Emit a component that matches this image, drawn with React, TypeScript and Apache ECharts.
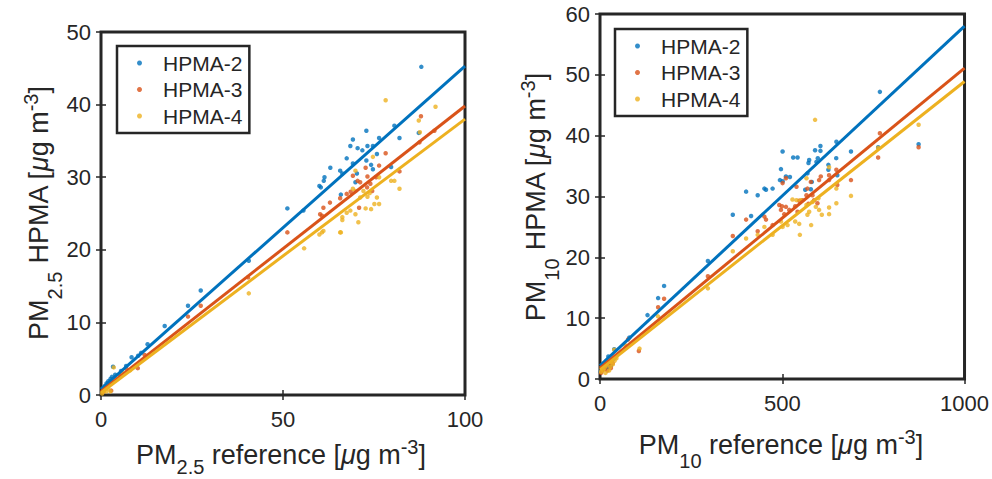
import React, { useEffect, useRef } from "react";
import * as echarts from "echarts";

const FONT = "'Liberation Sans', Arial, Helvetica, sans-serif";
const INK = "#262626";

const seriesNames = ["HPMA-2", "HPMA-3", "HPMA-4"];
const seriesColors = ["#0072BD", "#D95319", "#EDB120"];

// ---- PM2.5 panel: [reference, HPMA] ----
const pm25Hpma2: number[][] = [
  [0.5, 0.9], [1.0, 1.2], [1.5, 1.6], [2.0, 1.9], [2.6, 2.2], [3.0, 2.5], [3.3, 3.9], [3.9, 2.8],
  [5.5, 3.3], [6.9, 4.0], [8.4, 5.2], [10.2, 5.4], [11.0, 5.8], [12.8, 7.0], [17.5, 9.5], [23.9, 12.3],
  [27.4, 14.4], [40.6, 18.5],
  [51.2, 25.7], [55.6, 25.4], [60.0, 28.8], [60.4, 28.6], [61.2, 29.5], [61.4, 30.0], [63.0, 31.3],
  [65.7, 30.9], [66.3, 30.5], [65.9, 27.6], [67.5, 32.6], [68.5, 34.3], [69.2, 35.2], [69.2, 31.9],
  [69.9, 29.3], [70.3, 30.5], [70.5, 34.0], [71.8, 33.7], [72.9, 36.4], [72.9, 32.3], [73.2, 34.3],
  [74.2, 31.7], [74.7, 34.3], [74.7, 31.1], [75.8, 33.2], [76.4, 35.4], [79.7, 31.4], [80.6, 37.1],
  [82.0, 35.4], [87.3, 36.1], [88.0, 45.2],
];
const pm25Hpma3: number[][] = [
  [0.5, 0.4], [1.0, 0.8], [1.5, 1.0], [2.0, 1.3], [2.8, 0.6], [3.0, 1.8], [5.0, 2.8], [7.0, 3.6],
  [10.1, 3.7], [12.0, 5.5], [23.9, 10.8], [27.4, 12.3], [40.4, 16.2],
  [51.2, 22.4], [60.2, 24.9], [60.7, 24.7], [61.1, 25.8], [62.9, 26.5], [65.7, 27.1], [67.5, 27.7],
  [68.6, 28.0], [69.2, 30.2], [70.5, 29.5], [70.9, 25.8], [71.2, 29.3], [72.7, 31.3], [73.1, 28.6],
  [73.2, 30.1], [74.0, 29.1], [74.5, 28.1], [75.6, 30.0], [76.4, 31.6], [78.2, 33.3], [82.0, 30.8],
  [87.5, 34.8], [87.9, 38.4], [91.6, 36.4],
];
const pm25Hpma4: number[][] = [
  [0.3, 0.2], [0.8, 0.5], [1.5, 0.5], [2.0, 0.9], [2.6, 0.5], [3.5, 3.8], [4.5, 2.2], [6.0, 3.0],
  [8.0, 3.4], [40.6, 14.0],
  [55.8, 20.2], [60.0, 22.1], [60.7, 22.4], [61.1, 22.6], [65.7, 22.4], [65.9, 22.4], [66.3, 24.5],
  [66.3, 24.1], [67.5, 25.1], [68.5, 25.4], [69.2, 28.4], [69.9, 24.9], [69.9, 28.1], [69.9, 30.9],
  [70.7, 23.8], [71.2, 27.2], [72.1, 28.1], [72.7, 25.7], [73.2, 27.3], [73.8, 27.8], [74.2, 25.6],
  [74.7, 32.8], [75.1, 26.3], [75.8, 27.2], [76.4, 26.3], [76.4, 30.0], [78.2, 40.6], [79.7, 29.5],
  [80.6, 29.5], [82.0, 28.4], [87.3, 37.8], [87.6, 36.2], [91.9, 39.7],
];
const pm25FitX = [0, 100];
const pm25FitHpma2 = [0.8, 45.3];
const pm25FitHpma3 = [0.5, 39.8];
const pm25FitHpma4 = [0.3, 38.0];
const pm25XTicks = [0, 50, 100];
const pm25YTicks = [0, 10, 20, 30, 40, 50];

// ---- PM10 panel: [reference, HPMA] ----
const pm10Hpma2: number[][] = [
  [2, 1.2], [5, 1.5], [8, 1.8], [10, 2.0], [12, 2.6], [15, 2.5], [18, 3.0], [20, 1.8], [22.8, 3.7],
  [25, 2.0], [30, 2.2], [35, 3.2], [39, 4.9], [80.2, 6.8],
  [130.3, 10.5], [159.4, 13.3], [175.8, 15.3], [296, 19.4], [364.3, 27.0],
  [400.8, 30.8], [414.5, 26.8], [432.6, 30.2], [451, 31.3], [455.4, 31.1], [473.5, 31.3], [493.6, 32.7],
  [496.4, 34.5], [500.9, 37.4], [500.9, 32.5], [510, 33.3], [521, 33.2], [530, 36.4], [541.9, 36.4],
  [563, 31.1], [569, 33.8], [571.9, 35.5], [573.8, 36.0], [578.4, 31.2], [581, 32.4], [590, 37.6],
  [593.7, 35.7], [597.5, 36.3], [604.7, 38.3], [604.7, 37.5], [626.5, 35.2], [626.5, 34.4],
  [648.5, 39.0], [648, 36.3], [651, 33.5], [688.5, 37.4], [763, 38.1], [767.8, 47.2], [874, 38.6],
];
const pm10Hpma3: number[][] = [
  [3, 1.0], [5, 1.3], [8, 2.2], [10, 1.6], [15, 2.0], [18, 2.8], [20, 1.4], [25, 2.4], [30, 1.8],
  [35, 2.6], [40, 3.5], [77, 6.5],
  [106.6, 4.6], [159.4, 11.8], [175.8, 13.2], [296, 16.9], [364.3, 23.5],
  [400.8, 26.2], [432.6, 24.3], [451, 26.7], [455.4, 26.2], [473.5, 25.3], [491.8, 28.6], [496.4, 27.8],
  [499.2, 28.4], [500.9, 32.2], [505.5, 27.1], [510, 28.3], [510, 33.0], [519, 27.8], [535.5, 28.4],
  [539, 31.6], [541.9, 27.5], [546.4, 29.3], [555.5, 29.4], [566.4, 30.2], [569, 31.3], [572, 28.8],
  [578.4, 32.4], [582.8, 30.2], [587.4, 29.4], [596.5, 28.9], [601, 32.7], [605.7, 33.3], [628.4, 33.5],
  [628.4, 32.7], [648.4, 34.4], [651, 31.9], [688.5, 32.7], [763, 36.4], [767.8, 40.4], [874, 38.1],
];
const pm10Hpma4: number[][] = [
  [3, 1.2], [5, 2.0], [8, 1.5], [12, 1.8], [15, 1.0], [18, 2.2], [20, 2.6], [25, 1.4], [28, 2.0],
  [30, 2.8], [35, 2.4], [39, 4.8], [40, 3.0], [45, 3.4], [70, 5.5],
  [108.4, 5.0], [159, 10.3], [296, 14.9], [364.3, 21.0],
  [400.8, 23.1], [432.6, 23.7], [451, 25.0], [473.5, 23.7], [496.4, 25.9], [500.9, 25.0], [514.6, 25.3],
  [528, 29.5], [535.5, 25.9], [539, 29.4], [546.4, 25.5], [548.3, 23.7], [551, 29.4], [566.4, 33.0],
  [566.4, 28.6], [569, 27.0], [573.8, 27.5], [579.2, 25.3], [582.8, 29.1], [590, 42.6], [592, 28.3],
  [599, 29.7], [601, 27.8], [608.5, 27.0], [628.4, 34.8], [628.4, 28.2], [628.4, 27.1], [648.4, 31.3],
  [648.4, 28.9], [688.5, 30.1], [763, 38.0], [874, 41.8],
];
const pm10FitX = [0, 1000];
const pm10FitHpma2 = [2.2, 58.0];
const pm10FitHpma3 = [1.8, 51.1];
const pm10FitHpma4 = [1.5, 48.9];
const pm10XTicks = [0, 500, 1000];
const pm10YTicks = [0, 10, 20, 30, 40, 50, 60];

function labelRich(subDrop: number) {
  return {
    n: { fontSize: 27, fontFamily: FONT, color: INK },
    mu: { fontSize: 27, fontFamily: FONT, color: INK, fontStyle: "italic" },
    sb: { fontSize: 20, fontFamily: FONT, color: INK, padding: [subDrop, 0, 0, 0] },
    sp: { fontSize: 20, fontFamily: FONT, color: INK, padding: [0, 0, 16, 0] },
  };
}

function ticksAxis(ticks: number[], position: string, gridIndex: number, showLabel: boolean) {
  return {
    type: "value",
    gridIndex,
    position,
    min: ticks[0],
    max: ticks[ticks.length - 1],
    interval: ticks[1] - ticks[0],
    axisLine: { show: false },
    axisTick: { show: true, inside: true, length: 5, lineStyle: { color: INK, width: 1.5 } },
    axisLabel: {
      show: showLabel,
      fontSize: 22,
      fontFamily: FONT,
      color: INK,
      margin: position === "bottom" ? 13 : 10,
      formatter: (v: number) => String(v),
    },
    splitLine: { show: false },
  };
}

function scatter(name: string, color: string, data: number[][], xi: number, yi: number) {
  return {
    type: "scatter",
    name,
    xAxisIndex: xi,
    yAxisIndex: yi,
    data,
    symbol: "circle",
    symbolSize: 4.5,
    itemStyle: { color },
    z: 2,
  };
}

function fitLine(name: string, color: string, xs: number[], ys: number[], xi: number, yi: number) {
  return {
    type: "line",
    name,
    xAxisIndex: xi,
    yAxisIndex: yi,
    data: xs.map((x, i) => [x, ys[i]]),
    showSymbol: false,
    symbol: "none",
    lineStyle: { color, width: 3 },
    itemStyle: { color },
    z: 3,
  };
}

function legendAt(left: number, top: number) {
  return {
    left,
    top,
    orient: "vertical",
    data: seriesNames,
    icon: "circle",
    itemWidth: 5,
    itemHeight: 5,
    itemGap: 4.5,
    padding: [6, 7, 6, 20],
    borderColor: INK,
    borderWidth: 2.5,
    backgroundColor: "#ffffff",
    selectedMode: false,
    textStyle: { fontSize: 21, fontFamily: FONT, color: INK, padding: [0, 0, 0, 16], lineHeight: 22 },
  };
}

function axisTitle(text: string, x: number, y: number, rotated: boolean, subDrop: number) {
  return {
    type: "text",
    x,
    y,
    rotation: rotated ? Math.PI / 2 : 0,
    style: {
      text,
      rich: labelRich(subDrop),
      align: "center",
      verticalAlign: "middle",
      fontSize: 27,
      fontFamily: FONT,
      fill: INK,
    },
  };
}

export default function App() {
  const ref = useRef<HTMLDivElement>(null);
  useEffect(() => {
    if (!ref.current) return;
    const chart = echarts.init(ref.current, null, { renderer: "svg" });
    const gridStyle = { show: true, borderColor: INK, borderWidth: 3, backgroundColor: "#ffffff" };
    chart.setOption({
      animation: false,
      backgroundColor: "#ffffff",
      grid: [
        { left: 101, top: 32, width: 364, height: 363, ...gridStyle },
        { left: 600, top: 14, width: 366, height: 365, ...gridStyle },
      ],
      xAxis: [
        ticksAxis(pm25XTicks, "bottom", 0, true),
        ticksAxis(pm25XTicks, "top", 0, false),
        ticksAxis(pm10XTicks, "bottom", 1, true),
        ticksAxis(pm10XTicks, "top", 1, false),
      ],
      yAxis: [
        ticksAxis(pm25YTicks, "left", 0, true),
        ticksAxis(pm25YTicks, "right", 0, false),
        ticksAxis(pm10YTicks, "left", 1, true),
        ticksAxis(pm10YTicks, "right", 1, false),
      ],
      legend: [legendAt(117, 46), legendAt(615, 29)],
      series: [
        scatter(seriesNames[0], seriesColors[0], pm25Hpma2, 0, 0),
        scatter(seriesNames[1], seriesColors[1], pm25Hpma3, 0, 0),
        scatter(seriesNames[2], seriesColors[2], pm25Hpma4, 0, 0),
        fitLine("fit PM2.5 HPMA-2", seriesColors[0], pm25FitX, pm25FitHpma2, 0, 0),
        fitLine("fit PM2.5 HPMA-3", seriesColors[1], pm25FitX, pm25FitHpma3, 0, 0),
        fitLine("fit PM2.5 HPMA-4", seriesColors[2], pm25FitX, pm25FitHpma4, 0, 0),
        scatter(seriesNames[0], seriesColors[0], pm10Hpma2, 2, 2),
        scatter(seriesNames[1], seriesColors[1], pm10Hpma3, 2, 2),
        scatter(seriesNames[2], seriesColors[2], pm10Hpma4, 2, 2),
        fitLine("fit PM10 HPMA-2", seriesColors[0], pm10FitX, pm10FitHpma2, 2, 2),
        fitLine("fit PM10 HPMA-3", seriesColors[1], pm10FitX, pm10FitHpma3, 2, 2),
        fitLine("fit PM10 HPMA-4", seriesColors[2], pm10FitX, pm10FitHpma4, 2, 2),
      ],
      graphic: [
        axisTitle("{n|PM}{sb|2.5}{n| reference [}{mu|μ}{n|g m}{sp|-3}{n|]}", 281, 455, false, 24),
        axisTitle("{n|PM}{sb|2.5}{n| HPMA [}{mu|μ}{n|g m}{sp|-3}{n|]}", 39, 213, true, 32),
        axisTitle("{n|PM}{sb|10}{n| reference [}{mu|μ}{n|g m}{sp|-3}{n|]}", 781, 445, false, 32),
        axisTitle("{n|PM}{sb|10}{n| HPMA [}{mu|μ}{n|g m}{sp|-3}{n|]}", 536, 197, true, 32),
      ],
    });
    return () => chart.dispose();
  }, []);
  return (
    <div
      ref={ref}
      style={{ position: "fixed", left: 0, top: 0, width: 992, height: 479, background: "#ffffff" }}
    />
  );
}
